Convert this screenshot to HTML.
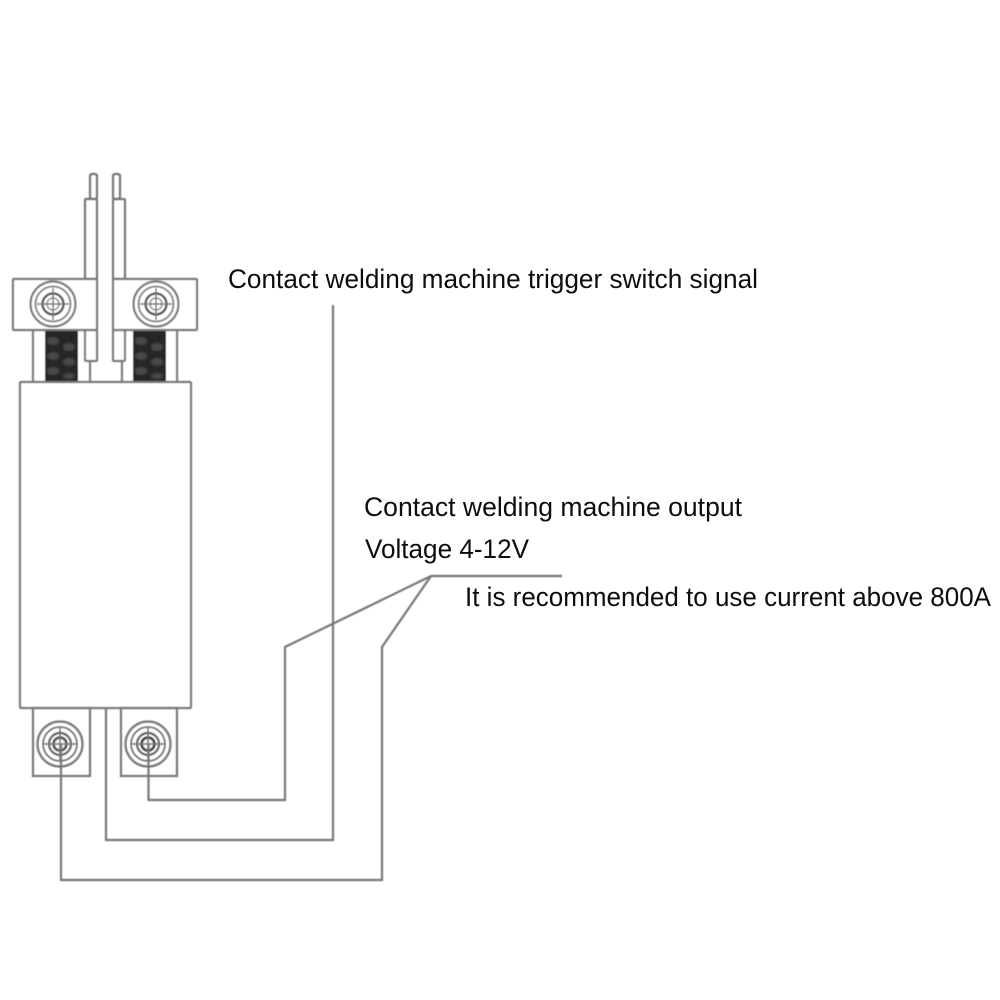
<!DOCTYPE html>
<html><head><meta charset="utf-8"><style>
html,body{margin:0;padding:0;background:#fff;width:1000px;height:1000px;overflow:hidden}
svg{display:block}
text{font-family:"Liberation Sans",sans-serif;font-size:27px;fill:#0d0d0d}
</style></head><body>
<svg width="1000" height="1000" viewBox="0 0 1000 1000">
<defs>
<filter id="b" x="-5%" y="-5%" width="110%" height="110%"><feGaussianBlur stdDeviation="0.6"/></filter>
<filter id="d" x="-5%" y="-5%" width="110%" height="110%"><feGaussianBlur stdDeviation="1.1"/></filter>
</defs>
<g filter="url(#b)" fill="none" stroke="#777" stroke-width="2.200">
  <!-- top wires -->
  <rect x="90" y="174" width="7" height="25" rx="2"/>
  <rect x="113" y="174" width="7" height="25" rx="2"/>
  <rect x="85" y="199" width="12" height="80" rx="1"/>
  <rect x="113" y="199" width="12" height="80" rx="1"/>
  <!-- terminal blocks above body -->
  <rect x="33" y="330" width="57" height="52" fill="#fff"/>
  <rect x="122" y="330" width="55" height="52" fill="#fff"/>
  <rect x="45" y="331" width="33" height="51" fill="#262626" stroke="none"/>
  <rect x="133" y="331" width="33" height="51" fill="#262626" stroke="none"/>
  <rect x="85" y="330" width="12" height="31" rx="1" fill="#fff"/>
  <rect x="113" y="330" width="12" height="31" rx="1" fill="#fff"/>
  <!-- clamps -->
  <rect x="13" y="279" width="84" height="51" rx="1" fill="#fff"/>
  <rect x="113" y="279" width="84" height="51" rx="1" fill="#fff"/>
  <g>
    <circle cx="53" cy="304" r="22.500"/><circle cx="53" cy="304" r="17.500" stroke-width="1.800"/>
    <circle cx="53" cy="304" r="10.500" stroke="#555" stroke-width="2.500"/><circle cx="53" cy="304" r="6" stroke="#888" stroke-width="1.500"/>
    <path d="M37 304h32M53 288v32" stroke-width="1.500"/>
  </g>
  <g>
    <circle cx="156" cy="304" r="22.500"/><circle cx="156" cy="304" r="17.500" stroke-width="1.800"/>
    <circle cx="156" cy="304" r="10.500" stroke="#555" stroke-width="2.500"/><circle cx="156" cy="304" r="6" stroke="#888" stroke-width="1.500"/>
    <path d="M140 304h32M156 288v32" stroke-width="1.500"/>
  </g>
  <!-- body -->
  <rect x="20" y="382" width="171" height="326" rx="1" fill="#fff"/>
  <!-- lower terminals -->
  <rect x="33" y="708" width="57" height="68"/>
  <rect x="121" y="708" width="56" height="68"/>
  <g>
    <circle cx="60" cy="744" r="22.500"/><circle cx="60" cy="744" r="17" stroke-width="1.800"/>
    <circle cx="60" cy="744" r="11" stroke="#666"/><circle cx="60" cy="744" r="6.500" stroke="#555" stroke-width="2.500"/>
    <path d="M44 744h32M60 728v32" stroke-width="1.500"/>
  </g>
  <g>
    <circle cx="148" cy="744" r="22.500"/><circle cx="148" cy="744" r="17" stroke-width="1.800"/>
    <circle cx="148" cy="744" r="11" stroke="#666"/><circle cx="148" cy="744" r="6.500" stroke="#444" stroke-width="2.500"/>
    <path d="M132 744h32M148 728v32" stroke-width="1.500"/>
  </g>
  <!-- wiring -->
  <polyline points="61,744 61,880 382,880 382,647 431,576"/>
  <polyline points="106,708 106,840 333,840 333,305"/>
  <polyline points="148.500,744 148.500,800 285,800 285,647 431,576 562,576"/>
</g>
<!-- mottled coil texture -->
<g filter="url(#d)" fill="#4a4a4a">
  <ellipse cx="53" cy="341" rx="6" ry="4"/><ellipse cx="69" cy="347" rx="6" ry="4"/><ellipse cx="53" cy="356" rx="6" ry="4"/><ellipse cx="69" cy="362" rx="6" ry="4"/><ellipse cx="53" cy="371" rx="6" ry="4"/><ellipse cx="69" cy="376" rx="6" ry="3"/>
  <ellipse cx="141" cy="341" rx="6" ry="4"/><ellipse cx="157" cy="347" rx="6" ry="4"/><ellipse cx="141" cy="356" rx="6" ry="4"/><ellipse cx="157" cy="362" rx="6" ry="4"/><ellipse cx="141" cy="371" rx="6" ry="4"/><ellipse cx="157" cy="376" rx="6" ry="3"/>
</g>
<g>
  <text x="228" y="288" textLength="530" lengthAdjust="spacingAndGlyphs">Contact welding machine trigger switch signal</text>
  <text x="364" y="516" textLength="378" lengthAdjust="spacingAndGlyphs">Contact welding machine output</text>
  <text x="365" y="558" textLength="164" lengthAdjust="spacingAndGlyphs">Voltage 4-12V</text>
  <text x="465" y="606" textLength="526" lengthAdjust="spacingAndGlyphs">It is recommended to use current above 800A</text>
</g>
</svg>
</body></html>
